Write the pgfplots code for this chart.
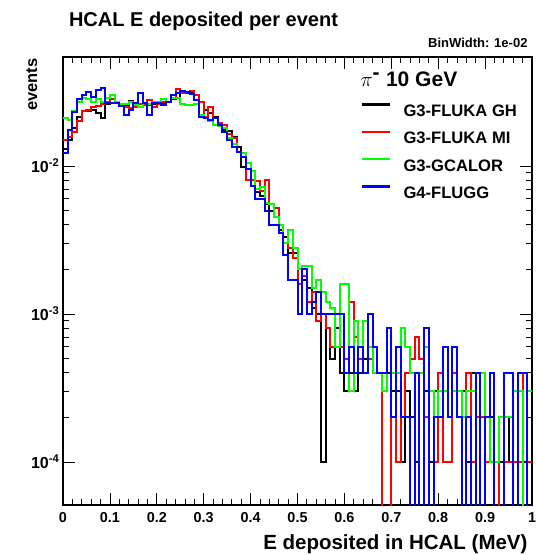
\documentclass[border=0pt]{standalone}
\usepackage{pgfplots}
\pgfplotsset{compat=1.18}
\usepackage{pgfplotstable}
\usepackage{fontspec}
\setmainfont{Liberation Sans}
\setsansfont{Liberation Sans}

% GH (black)
\pgfplotstableread{
x y
0.00 0.0130
0.01 0.0150
0.02 0.0180
0.03 0.0215
0.04 0.0235
0.05 0.0235
0.06 0.0240
0.07 0.0228
0.08 0.0212
0.09 0.0262
0.10 0.0268
0.11 0.0265
0.12 0.0262
0.13 0.0258
0.14 0.0275
0.15 0.0258
0.16 0.0262
0.17 0.0262
0.18 0.0258
0.19 0.0262
0.20 0.0265
0.21 0.0262
0.22 0.0270
0.23 0.0282
0.24 0.0290
0.25 0.0315
0.26 0.0310
0.27 0.0318
0.28 0.0302
0.29 0.0272
0.30 0.0239
0.31 0.0227
0.32 0.0213
0.33 0.0196
0.34 0.0175
0.35 0.0173
0.36 0.0158
0.37 0.0135
0.38 0.0099
0.39 0.0095
0.40 0.0080
0.41 0.0067
0.42 0.0063
0.43 0.0055
0.44 0.0050
0.45 0.0045
0.46 0.0037
0.47 0.0033
0.48 0.0026
0.49 0.0026
0.50 0.0020
0.51 0.0017
0.52 0.0015
0.53 0.0011
0.54 0.0010
0.55 0.0001
0.56 0.0008
0.57 0.0005
0.58 0.0008
0.59 0.0004
0.60 0.0003
0.61 0.0004
0.62 0.0003
0.63 0.0004
0.64 0.0005
0.65 0.0005
0.66 0.0004
0.67 0.0004
0.68 0.0003
0.69 0.0004
0.70 0.0003
0.71 0.0003
0.72 0.0001
0.73 0.0003
0.74 0.0002
0.75 0.0001
0.76 0.0004
0.77 0.0003
0.78 0.0001
0.79 0.0003
0.80 0.0004
0.81 0.0001
0.82 0.0001
0.83 0.0003
0.84 0.0003
0.85 0.0003
0.86 0.0001
0.87 0.0004
0.88 0.0002
0.89 0.0002
0.90 0.0002
0.91 0.0002
0.92 0.0001
0.93 0.0001
0.94 0.0002
0.95 0.0001
0.96 0.0001
0.97 0.0001
0.98 0.0001
0.99 0.0001
1.00 0.0001
}\tblack

% MI (red)
\pgfplotstableread{
x y
0.00 0.0150
0.01 0.0158
0.02 0.0170
0.03 0.0200
0.04 0.0235
0.05 0.0240
0.06 0.0250
0.07 0.0255
0.08 0.0262
0.09 0.0272
0.10 0.0282
0.11 0.0270
0.12 0.0262
0.13 0.0250
0.14 0.0245
0.15 0.0250
0.16 0.0262
0.17 0.0260
0.18 0.0280
0.19 0.0250
0.20 0.0262
0.21 0.0270
0.22 0.0272
0.23 0.0290
0.24 0.0330
0.25 0.0310
0.26 0.0318
0.27 0.0320
0.28 0.0300
0.29 0.0270
0.30 0.0215
0.31 0.0250
0.32 0.0212
0.33 0.0196
0.34 0.0190
0.35 0.0165
0.36 0.0155
0.37 0.0125
0.38 0.0115
0.39 0.0081
0.40 0.0080
0.41 0.0079
0.42 0.0068
0.43 0.0080
0.44 0.0055
0.45 0.0052
0.46 0.0040
0.47 0.0030
0.48 0.0028
0.49 0.0024
0.50 0.0016
0.51 0.0018
0.52 0.0012
0.53 0.0014
0.54 0.0009
0.55 0.0010
0.56 0.0008
0.57 0.0006
0.58 0.0006
0.59 0.0006
0.60 0.0005
0.61 0.0012
0.62 0.0007
0.63 0.0005
0.64 0.0004
0.65 0.0005
0.66 0.0004
0.67 0.0004
0.68 0.000001
0.69 0.000001
0.70 0.0004
0.71 0.0001
0.72 0.0002
0.73 0.0004
0.74 0.0005
0.75 0.0007
0.76 0.0005
0.77 0.0002
0.78 0.000001
0.79 0.0001
0.80 0.0004
0.81 0.0001
0.82 0.0001
0.83 0.0004
0.84 0.0002
0.85 0.0002
0.86 0.0004
0.87 0.0001
0.88 0.0002
0.89 0.0002
0.90 0.0001
0.91 0.0001
0.92 0.0001
0.93 0.000001
0.94 0.0001
0.95 0.0001
0.96 0.0001
0.97 0.0001
0.98 0.0004
0.99 0.0001
1.00 0.0001
}\tred

% GCALOR (green)
\pgfplotstableread{
x y
0.00 0.0210
0.01 0.0205
0.02 0.0235
0.03 0.0270
0.04 0.0290
0.05 0.0282
0.06 0.0272
0.07 0.0282
0.08 0.0272
0.09 0.0290
0.10 0.0300
0.11 0.0270
0.12 0.0262
0.13 0.0262
0.14 0.0270
0.15 0.0258
0.16 0.0252
0.17 0.0265
0.18 0.0262
0.19 0.0270
0.20 0.0272
0.21 0.0282
0.22 0.0272
0.23 0.0290
0.24 0.0290
0.25 0.0262
0.26 0.0258
0.27 0.0258
0.28 0.0262
0.29 0.0222
0.30 0.0210
0.31 0.0200
0.32 0.0190
0.33 0.0185
0.34 0.0180
0.35 0.0155
0.36 0.0140
0.37 0.0125
0.38 0.0122
0.39 0.0105
0.40 0.0092
0.41 0.0070
0.42 0.0072
0.43 0.0056
0.44 0.0055
0.45 0.0045
0.46 0.0040
0.47 0.0030
0.48 0.0037
0.49 0.0028
0.50 0.0020
0.51 0.0021
0.52 0.0021
0.53 0.0015
0.54 0.0017
0.55 0.0014
0.56 0.0012
0.57 0.0011
0.58 0.0006
0.59 0.0016
0.60 0.0016
0.61 0.0003
0.62 0.0009
0.63 0.0006
0.64 0.0009
0.65 0.0006
0.66 0.0004
0.67 0.0004
0.68 0.0003
0.69 0.0008
0.70 0.0004
0.71 0.0004
0.72 0.0008
0.73 0.0006
0.74 0.0004
0.75 0.0004
0.76 0.0004
0.77 0.0006
0.78 0.0003
0.79 0.0002
0.80 0.0003
0.81 0.0003
0.82 0.0002
0.83 0.0003
0.84 0.0003
0.85 0.0002
0.86 0.0003
0.87 0.0003
0.88 0.0004
0.89 0.0004
0.90 0.0002
0.91 0.0001
0.92 0.0001
0.93 0.0002
0.94 0.0002
0.95 0.0002
0.96 0.0003
0.97 0.0003
0.98 0.000001
0.99 0.0003
1.00 0.0003
}\tgreen

% FLUGG (blue)
\pgfplotstableread{
x y
0.00 0.0122
0.01 0.0176
0.02 0.0233
0.03 0.0282
0.04 0.0304
0.05 0.0318
0.06 0.0294
0.07 0.0324
0.08 0.0337
0.09 0.0265
0.10 0.0265
0.11 0.0265
0.12 0.0255
0.13 0.0221
0.14 0.0240
0.15 0.0265
0.16 0.0310
0.17 0.0265
0.18 0.0221
0.19 0.0265
0.20 0.0265
0.21 0.0258
0.22 0.0270
0.23 0.0300
0.24 0.0310
0.25 0.0322
0.26 0.0318
0.27 0.0305
0.28 0.0280
0.29 0.0215
0.30 0.0210
0.31 0.0205
0.32 0.0210
0.33 0.0190
0.34 0.0170
0.35 0.0150
0.36 0.0135
0.37 0.0125
0.38 0.0115
0.39 0.0095
0.40 0.0073
0.41 0.0060
0.42 0.0060
0.43 0.0050
0.44 0.0040
0.45 0.0040
0.46 0.0035
0.47 0.0025
0.48 0.0017
0.49 0.0017
0.50 0.0010
0.51 0.0020
0.52 0.0010
0.53 0.0012
0.54 0.0014
0.55 0.0010
0.56 0.0010
0.57 0.0010
0.58 0.0010
0.59 0.0010
0.60 0.0004
0.61 0.0006
0.62 0.0004
0.63 0.0006
0.64 0.0004
0.65 0.0010
0.66 0.0006
0.67 0.0004
0.68 0.0004
0.69 0.0008
0.70 0.0002
0.71 0.0006
0.72 0.0002
0.73 0.0002
0.74 0.000001
0.75 0.0004
0.76 0.000001
0.77 0.0008
0.78 0.000001
0.79 0.0002
0.80 0.0002
0.81 0.0006
0.82 0.0002
0.83 0.0006
0.84 0.0002
0.85 0.000001
0.86 0.0002
0.87 0.000001
0.88 0.0004
0.89 0.000001
0.90 0.0002
0.91 0.0004
0.92 0.000001
0.93 0.000001
0.94 0.0004
0.95 0.0004
0.96 0.000001
0.97 0.0004
0.98 0.0004
0.99 0.000001
1.00 0.000001
}\tblue

\begin{document}
\begin{tikzpicture}
\path[use as bounding box] (0,0) rectangle (536bp,555bp);
\begin{axis}[
  at={(63bp,50bp)}, anchor=south west,
  scale only axis, width=469bp, height=448bp,
  xmin=0, xmax=1,
  ymode=log, ymin=5.12e-5, ymax=0.0545,
  axis line style={line width=1.6bp},
  tick align=inside,
  xtick={0,0.1,...,1.0},
  xticklabels={0,0.1,0.2,0.3,0.4,0.5,0.6,0.7,0.8,0.9,1},
  minor x tick num=4,
  ytick={1e-4,1e-3,1e-2},
  yticklabels={10\textsuperscript{-4},10\textsuperscript{-3},10\textsuperscript{-2}},
  major tick length=12bp, minor tick length=6bp,
  every tick/.style={black, line width=0.8bp},
  xticklabel style={font=\fontsize{14.4bp}{16bp}\selectfont\bfseries, anchor=north, inner sep=0pt, yshift=-7.5bp},
  yticklabel style={font=\fontsize{16bp}{18bp}\selectfont\bfseries, anchor=east, inner sep=0pt, xshift=-3.5bp},
  legend style={draw=none, fill=none, at={(0.627,0.7906)}, anchor=west,
    font=\fontsize{16.6bp}{18bp}\selectfont\bfseries,
    nodes={inner sep=0pt, text height=12bp, text depth=0bp},
    row sep=14bp, cells={anchor=west}},
  legend image code/.code={\draw[#1, line width=2.5bp] plot coordinates {(0bp,6bp) (28bp,6bp)}; \path (41bp,0bp);},
  clip=true,
]
\addplot[black, const plot mark left, line width=2bp, mark=none] table {\tblack};
\addlegendentry{G3-FLUKA GH}
\addplot[red, const plot mark left, line width=2bp, mark=none] table {\tred};
\addlegendentry{G3-FLUKA MI}
\addplot[green, const plot mark left, line width=2bp, mark=none] table {\tgreen};
\addlegendentry{G3-GCALOR}
\addplot[blue, const plot mark left, line width=2bp, mark=none] table {\tblue};
\addlegendentry{G4-FLUGG}
\end{axis}
\node[anchor=base west, font=\fontsize{20bp}{22bp}\selectfont\bfseries] at (65.5bp,528.3bp) {HCAL E deposited per event};
\node[anchor=base east, font=\fontsize{13bp}{15bp}\selectfont\bfseries] at (531bp,507bp) {BinWidth: 1e-02};
\node[anchor=base west, font=\fontsize{21bp}{24bp}\selectfont\bfseries] at (357bp,468.3bp) {$\pi^{\textbf{-}}$ 10 GeV};
\node[anchor=base east, font=\fontsize{20.5bp}{22bp}\selectfont\bfseries] at (531bp,6bp) {E deposited in HCAL (MeV)};
\node[anchor=base east, rotate=90, font=\fontsize{16.5bp}{18bp}\selectfont\bfseries] at (37bp,500bp) {events};
\end{tikzpicture}
\end{document}
